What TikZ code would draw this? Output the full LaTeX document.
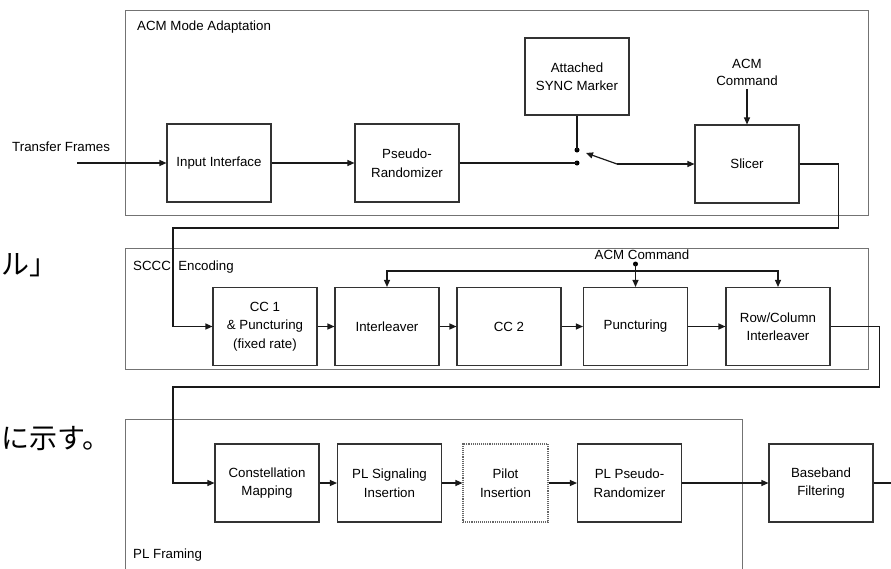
\documentclass[tikz,border=0pt]{standalone}
\usepackage{fontspec}
\setmainfont{Liberation Sans}
\newfontfamily\jpfont{Noto Sans CJK JP}
\usetikzlibrary{arrows.meta}
\begin{document}
\begin{tikzpicture}[x=1pt,y=-1pt,
  blk/.style={draw=black!80, line width=1.1pt, minimum width=104pt, minimum height=78pt,
    align=center, inner sep=0pt, font=\fontsize{13.3}{18.5}\selectfont},
  grp/.style={draw=black!55, line width=0.9pt},
  conn/.style={line width=1.2pt, draw=black!90},
  arr/.style={conn, -{Triangle[length=7pt,width=6pt]}},
  lbl/.style={font=\fontsize{13.3}{17}\selectfont, inner sep=0pt, align=center},
  jp/.style={font=\jpfont\fontsize{28}{28}\selectfont, inner sep=0pt, anchor=west},
  dot/.style={fill=black, circle, inner sep=0pt, minimum size=5pt}
]
\useasboundingbox (0,0) rectangle (891,568);
\fill[white] (0,0) rectangle (891,568);

% group frames
\draw[grp] (125,10) rectangle (868,215);
\draw[grp] (125,248) rectangle (868,369);
\draw[grp] (125,575) -- (125,419) -- (742,419) -- (742,575);
\node[lbl, anchor=west] (g1) at (137,27) {ACM Mode Adaptation};
\node[lbl, anchor=west] (g2) at (133,267) {SCCC\ \ Encoding};
\node[lbl, anchor=west] (g3) at (133,555) {PL Framing};

% page text fragments
\node[jp] (jp1) at (1,265) {ル」};
\node[jp] (jp2) at (1,439) {に示す。};

% row 1
\node[lbl, anchor=west] (tf) at (12,147) {Transfer Frames};
\coordinate (tfin) at (77,163);
\node[blk] (ii) at (219,163) {Input Interface};
\node[blk] (pr) at (407,163) {Pseudo-\\Randomizer};
\node[blk, minimum height=77pt] (asm) at (577,76.5) {Attached\\SYNC Marker};
\node[blk] (sl) at (747,164) {Slicer};
\node[lbl] (acm1) at (747,72.5) {ACM\\Command};
\node[dot] (d1) at (577,150) {};
\node[dot] (d2) at (577,163) {};
\coordinate (piv) at (617,164);
\coordinate (swt) at (586,153);

\draw[arr] (tfin) -- (ii);
\draw[arr] (ii) -- (pr);
\draw[conn] (pr.east) -- (d2.center);
\draw[conn] (asm.south) -- (d1.center);
\draw[arr] (piv) -- (swt);
\draw[arr] (piv) -- (sl);
\draw[arr] ([yshift=-3pt]acm1.south) -- (sl.north);

% row 2
\node[blk] (cc1) at (265,326.5) {CC 1\\\& Puncturing\\(fixed rate)};
\node[blk] (il) at (387,326.5) {Interleaver};
\node[blk] (cc2) at (509,326.5) {CC 2};
\node[blk] (pu) at (635.5,326.5) {Puncturing};
\node[blk] (rc) at (778,326.5) {Row/Column\\Interleaver};
\node[lbl] (acm2) at (642,255) {ACM Command};
\node[dot] (acmdot) at (635.5,264) {};
\coordinate (acmj) at (635.5,271);

\draw[arr] (sl.east) -- ++(39,0) |- (173,228) |- (cc1.west);
\draw[arr] (cc1) -- (il);
\draw[arr] (il) -- (cc2);
\draw[arr] (cc2) -- (pu);
\draw[arr] (pu) -- (rc);
\draw[arr] (acmdot.center) -- (pu.north);
\draw[arr] (acmj) -| (il.north);
\draw[arr] (acmj) -| (rc.north);

% row 3
\node[blk] (cm) at (267,483) {Constellation\\Mapping};
\node[blk] (ps) at (389.5,483) {PL Signaling\\Insertion};
\node[blk, minimum width=85pt, draw=black!60, densely dotted] (pi) at (505.5,483) {Pilot\\Insertion};
\node[blk] (ppr) at (629.5,483) {PL Pseudo-\\Randomizer};
\node[blk] (bb) at (821,483) {Baseband\\Filtering};
\coordinate (out) at (895,483);

\draw[arr] (rc.east) -- ++(49,0) |- (173,387) |- (cm.west);
\draw[arr] (cm) -- (ps);
\draw[arr] (ps) -- (pi);
\draw[arr] (pi) -- (ppr);
\draw[arr] (ppr) -- (bb);
\draw[conn] (bb.east) -- (out);
\end{tikzpicture}
\end{document}
